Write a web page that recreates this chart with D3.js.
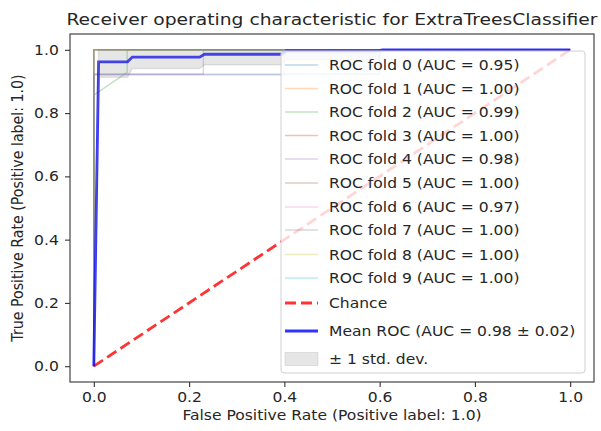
<!DOCTYPE html>
<html><head><meta charset="utf-8">
<script src="https://cdn.jsdelivr.net/npm/d3@7"></script>
<style>body{margin:0;background:#fff}svg{display:block}text{font-family:"DejaVu Sans",sans-serif;fill:#262626}</style>
</head><body><svg id="c" width="601" height="431"></svg>
<script>
// ---- data ----
const foldNames = ["ROC fold 0","ROC fold 1","ROC fold 2","ROC fold 3","ROC fold 4","ROC fold 5","ROC fold 6","ROC fold 7","ROC fold 8","ROC fold 9"];
const foldAuc = [0.95,1.00,0.99,1.00,0.98,1.00,0.97,1.00,1.00,1.00];
const foldFpr = [
  [0,0,0.60,0.60,1],
  [0,0,1],
  [0,0,0.07,0.07,1],
  [0,0,1],
  [0,0,0.23,0.23,1],
  [0,0,1],
  [0,0,0.40,0.40,1],
  [0,0,1],
  [0,0,1],
  [0,0,1]
];
const foldTpr = [
  [0,0.923,0.923,1,1],
  [0,1,1],
  [0,0.857,0.929,1,1],
  [0,1,1],
  [0,0.923,0.923,1,1],
  [0,1,1],
  [0,0.920,0.920,1,1],
  [0,1,1],
  [0,1,1],
  [0,1,1]
];
const meanFpr = [0,0.0101,0.0707,0.0808,0.2222,0.2323,0.3939,0.4040,0.5960,0.6061,1.0];
const meanTpr = [0,0.962,0.962,0.977,0.977,0.986,0.986,0.997,0.997,1.0,1.0];
const stdLower = [0,0.913,0.913,0.941,0.941,0.953,0.953,0.969,0.969,1.0,1.0];
const stdUpper = [0,1,1,1,1,1,1,1,1,1,1];
const meanAuc = 0.98, stdAuc = 0.02;
const chance = [[0,0],[1,1]];
const tickVals = [0,0.2,0.4,0.6,0.8,1.0];
const foldColors = ["#1f77b4","#ff7f0e","#2ca02c","#d62728","#9467bd","#8c564b","#e377c2","#7f7f7f","#bcbd22","#17becf"];

// ---- layout ----
const SX = 1.12; // horizontal stretch of the glyphs in the reference
const svg = d3.select("#c");
const L=70,R=594,T=34,B=382;
const x = d3.scaleLinear().domain([-0.05,1.05]).range([L,R]);
const y = d3.scaleLinear().domain([-0.05,1.05]).range([B,T]);
svg.append("defs").append("clipPath").attr("id","clip").append("rect")
  .attr("x",L).attr("y",T).attr("width",R-L).attr("height",B-T);
const plot = svg.append("g").attr("clip-path","url(#clip)");
const line = d3.line().x(d=>x(d[0])).y(d=>y(d[1]));

foldFpr.forEach((f,i)=>{
  const pts = f.map((v,j)=>[v,foldTpr[i][j]]);
  plot.append("path").attr("d",line(pts)).attr("fill","none")
    .attr("stroke",foldColors[i]).attr("stroke-opacity",0.3).attr("stroke-width",1.4);
});
plot.append("path").attr("d",line(chance)).attr("fill","none")
  .attr("stroke","#ff0000").attr("stroke-opacity",0.8).attr("stroke-width",2.8)
  .attr("stroke-dasharray","11,5");
plot.append("path").attr("d",line(meanFpr.map((v,j)=>[v,meanTpr[j]]))).attr("fill","none")
  .attr("stroke","#0000ff").attr("stroke-opacity",0.8).attr("stroke-width",2.8);
const area = d3.area().x((d,j)=>x(meanFpr[j])).y0((d,j)=>y(stdLower[j])).y1((d,j)=>y(stdUpper[j]));
plot.append("path").attr("d",area(meanFpr)).attr("fill","#808080").attr("fill-opacity",0.2)
  .attr("stroke","#808080").attr("stroke-opacity",0.2).attr("stroke-width",1.4);

// axes
const fmt = d3.format(".1f");
const xa = svg.append("g").attr("transform",`translate(0,${B})`)
  .call(d3.axisBottom(x).tickValues(tickVals).tickFormat(fmt).tickSize(5).tickPadding(5));
const ya = svg.append("g").attr("transform",`translate(${L},0)`)
  .call(d3.axisLeft(y).tickValues(tickVals).tickFormat(fmt).tickSize(5).tickPadding(5));
[xa,ya].forEach(g=>{
  g.select(".domain").remove();
  g.selectAll("line").attr("stroke","#333").attr("stroke-width",1.1);
  g.selectAll("text").style("font-family","DejaVu Sans").style("font-size","13.9px").attr("fill","#333")
    .attr("transform",`scale(${SX},1)`);
});
svg.append("rect").attr("x",L).attr("y",T).attr("width",R-L).attr("height",B-T)
  .attr("fill","none").attr("stroke","#333").attr("stroke-width",1.1);

// legend
const lg = svg.append("g");
const LL=281, LR=585, LT=51, LB=373;
lg.append("rect").attr("x",LL).attr("y",LT).attr("width",LR-LL).attr("height",LB-LT)
  .attr("rx",3).attr("fill","#fff").attr("fill-opacity",0.8).attr("stroke","#d0d0d0").attr("stroke-width",1);
const rows = [65,88.5,112,135.5,159,183,207,230,254.5,278,303,331,359];
const hx0=285, hx1=318, tx=329;
function ltext(i, s){
  lg.append("text").attr("transform",`translate(${tx},${rows[i]}) scale(${SX},1)`)
    .attr("dy","0.36em").style("font-size","13.9px").text(s);
}
foldNames.forEach((n,i)=>{
  lg.append("line").attr("x1",hx0).attr("x2",hx1).attr("y1",rows[i]).attr("y2",rows[i])
    .attr("stroke",foldColors[i]).attr("stroke-opacity",0.3).attr("stroke-width",1.4);
  ltext(i, `${n} (AUC = ${foldAuc[i].toFixed(2)})`);
});
lg.append("line").attr("x1",hx0).attr("x2",hx1).attr("y1",rows[10]).attr("y2",rows[10])
  .attr("stroke","#ff0000").attr("stroke-opacity",0.8).attr("stroke-width",2.8).attr("stroke-dasharray","11,5");
ltext(10, "Chance");
lg.append("line").attr("x1",hx0).attr("x2",hx1).attr("y1",rows[11]).attr("y2",rows[11])
  .attr("stroke","#0000ff").attr("stroke-opacity",0.8).attr("stroke-width",2.8);
ltext(11, `Mean ROC (AUC = ${meanAuc.toFixed(2)} \u00b1 ${stdAuc.toFixed(2)})`);
lg.append("rect").attr("x",hx0).attr("y",rows[12]-6.5).attr("width",hx1-hx0).attr("height",13)
  .attr("fill","#808080").attr("fill-opacity",0.2).attr("stroke","#808080").attr("stroke-opacity",0.2);
ltext(12, "\u00b1 1 std. dev.");

// titles
svg.append("text").attr("transform",`translate(${(L+R)/2},25) scale(${SX},1)`).attr("text-anchor","middle").style("font-size","16.7px")
  .text("Receiver operating characteristic for ExtraTreesClassifier");
svg.append("text").attr("transform",`translate(${(L+R)/2},420) scale(${SX},1)`).attr("text-anchor","middle").style("font-size","13.9px")
  .text("False Positive Rate (Positive label: 1.0)");
svg.append("text").attr("transform",`translate(23,${(T+B)/2}) scale(${SX},1) rotate(-90)`).attr("text-anchor","middle").style("font-size","14.2px")
  .text("True Positive Rate (Positive label: 1.0)");
</script></body></html>
